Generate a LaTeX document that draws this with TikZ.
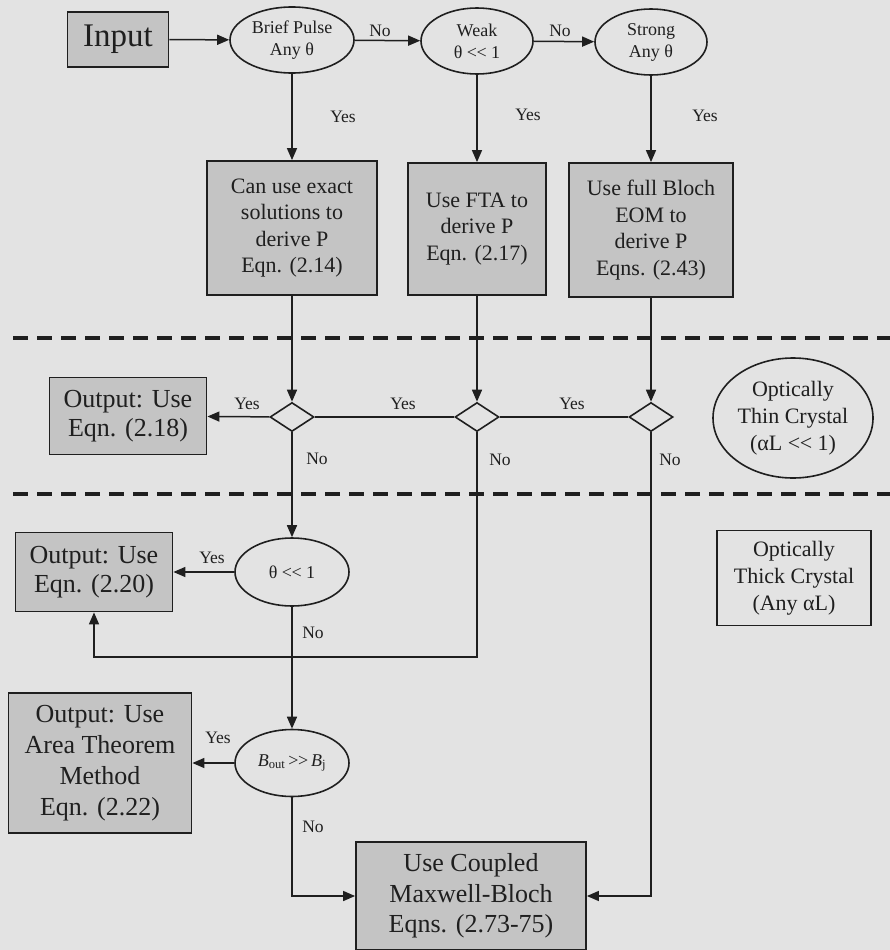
\documentclass[tikz,border=0pt]{standalone}
\usepackage{fontspec}
\setmainfont{Liberation Serif}
\usetikzlibrary{shapes.geometric,arrows.meta}
\definecolor{bgc}{gray}{0.89}
\definecolor{boxc}{gray}{0.77}
\definecolor{inkc}{gray}{0.12}
\newcommand\dlt{<\kern-0.5pt<}
\newcommand\dgt{>\kern-0.5pt>}
\begin{document}
\begin{tikzpicture}[x=1pt,y=-1pt,
  fbox/.style={draw=inkc, line width=1.8pt, fill=boxc, rectangle, inner sep=0pt, align=center, text=inkc},
  obox/.style={draw=inkc, line width=1.8pt, rectangle, inner sep=0pt, align=center, text=inkc},
  ebox/.style={draw=inkc, ellipse, inner sep=0pt, align=center, line width=1.6pt, text=inkc},
  dia/.style={draw=inkc, diamond, inner sep=0pt, minimum width=44pt, minimum height=29pt, line width=1.6pt},
  lbl/.style={font=\fontsize{17.5}{20}\selectfont, text=inkc, inner sep=0pt},
  arr/.style={draw=inkc, -{Triangle[length=12pt,width=10pt]}, line width=1.5pt},
  ln/.style={draw=inkc, line width=1.5pt},
  sep/.style={draw=inkc, line width=4pt, dash pattern=on 15pt off 9pt},
  mid/.style={font=\fontsize{22}{26.5}\selectfont},
  big/.style={font=\fontsize{26}{29.5}\selectfont},
  sml/.style={font=\fontsize{18}{22}\selectfont}
]
\useasboundingbox (0,0) rectangle (890,950);
\fill[bgc] (0,0) rectangle (890,950);

% separators
\draw[sep] (13,338) -- (890,338);
\draw[sep] (13,494) -- (890,494);

% top row
\node[fbox, minimum width=101pt, minimum height=55pt, font=\fontsize{33}{36}\selectfont] (input) at (118,39.5) {Input};
\node[ebox, sml, minimum width=124pt, minimum height=66pt] (brief) at (292,40) {Brief Pulse\\Any θ};
\node[ebox, sml, minimum width=112pt, minimum height=66pt] (weak) at (477,41) {Weak\\θ \dlt{} 1};
\node[ebox, sml, minimum width=112pt, minimum height=66pt] (strong) at (651,42) {Strong\\Any θ};

% second row
\node[fbox, mid, minimum width=170pt, minimum height=134pt] (b1) at (292,228) {Can use exact\\solutions to\\derive P\\Eqn. (2.14)};
\node[fbox, mid, minimum width=138pt, minimum height=132pt] (b2) at (477,229) {Use FTA to\\derive P\\Eqn. (2.17)};
\node[fbox, mid, minimum width=164pt, minimum height=134pt] (b3) at (651,230) {Use full Bloch\\EOM to\\derive P\\Eqns. (2.43)};

% thin crystal row
\node[dia] (d1) at (292,417) {};
\node[dia] (d2) at (477,417) {};
\node[dia] (d3) at (651,417) {};
\node[fbox, big, minimum width=157pt, minimum height=77pt] (out1) at (128,416) {Output: Use\\Eqn. (2.18)};
\node[ebox, mid, minimum width=160pt, minimum height=120pt, font=\fontsize{22}{27}\selectfont] (thin) at (793,418) {Optically\\Thin Crystal\\(αL \dlt{} 1)};

% thick crystal region
\node[ebox, sml, minimum width=114pt, minimum height=68pt] (e4) at (292,572) {θ \dlt{} 1};
\node[fbox, big, minimum width=157pt, minimum height=79pt] (out2) at (94,572) {Output: Use\\Eqn. (2.20)};
\node[obox, minimum width=154pt, minimum height=95pt, font=\fontsize{22}{27}\selectfont] (thick) at (794,578) {Optically\\Thick Crystal\\(Any αL)};
\node[ebox, sml, minimum width=114pt, minimum height=67pt] (e5) at (292,763) {\textit{B}\textsubscript{out}\,\dgt{}\,\textit{B}\textsubscript{j}};
\node[fbox, minimum width=183pt, minimum height=140pt, font=\fontsize{26}{31}\selectfont] (out3) at (100,763) {Output: Use\\Area Theorem\\Method\\Eqn. (2.22)};
\node[fbox, minimum width=230pt, minimum height=108pt, font=\fontsize{26}{30.5}\selectfont] (cpl) at (471,896) {Use Coupled\\Maxwell-Bloch\\Eqns. (2.73-75)};
\coordinate (lp) at (0,657);

% connectors
\draw[arr] (input) -- (brief);
\draw[arr] (brief) -- (weak);
\draw[arr] (weak) -- (strong);
\draw[arr] (brief) -- (b1);
\draw[arr] (weak) -- (b2);
\draw[arr] (strong) -- (b3);
\draw[arr] (b1) -- (d1);
\draw[arr] (b2) -- (d2);
\draw[arr] (b3) -- (d3);
\draw[arr] (d1) -- (out1);
\draw[ln] (d2.west) -- (d1.east);
\draw[ln] (d3.west) -- (d2.east);
\draw[arr] (d1) -- (e4);
\draw[arr] (e4) -- (out2);
\draw[arr] (d2.south) -- (d2.south |- lp) -| (out2.south);
\draw[arr] (e4) -- (e5);
\draw[arr] (e5) -- (out3.east |- e5.west);
\draw[arr] (e5.south) |- (cpl.west);
\draw[arr] (d3.south) |- (cpl.east);

% labels
\node[lbl] (n1) at (380,31) {No};
\node[lbl] (n2) at (560,31) {No};
\node[lbl] (y1) at (343,117) {Yes};
\node[lbl] (y2) at (528,115) {Yes};
\node[lbl] (y3) at (705,116) {Yes};
\node[lbl] (y4) at (247,404) {Yes};
\node[lbl] (y5) at (403,404) {Yes};
\node[lbl] (y6) at (572,404) {Yes};
\node[lbl] (n3) at (317,459) {No};
\node[lbl] (n4) at (500,460) {No};
\node[lbl] (n5) at (670,460) {No};
\node[lbl] (y7) at (212,558) {Yes};
\node[lbl] (n6) at (313,633) {No};
\node[lbl] (y8) at (218,738) {Yes};
\node[lbl] (n7) at (313,827) {No};
\end{tikzpicture}
\end{document}
